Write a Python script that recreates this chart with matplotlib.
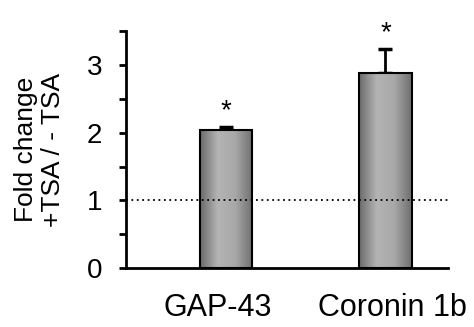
import numpy as np
import matplotlib
matplotlib.use("Agg")
import matplotlib.pyplot as plt
import matplotlib.transforms as mtransforms
from matplotlib.colors import LinearSegmentedColormap

plt.rcParams['font.family'] = ['Liberation Sans', 'DejaVu Sans']

genes = ["GAP-43", "Coronin 1b"]
fold = [2.04, 2.88]
err_up = [0.04, 0.35]
stars = ["*", "*"]
ylabel = "Fold change\n+TSA / - TSA"

fig = plt.figure(figsize=(4.74, 3.27), dpi=100)
ax = fig.add_axes([0.266, 0.180, 0.679, 0.725])

x = np.arange(len(genes))
width = 0.33
bars = ax.bar(x, fold, width=width, color='none', edgecolor='black', linewidth=1.5, zorder=3)

# horizontal gradient inside the bars
cmap = LinearSegmentedColormap.from_list("bargrad", ["#6a6a6a", "#b4b4b4", "#a8a8a8", "#6e6e6e"])
grad = np.linspace(0, 1, 256).reshape(1, -1)
for b in bars:
    x0, y0 = b.get_x(), b.get_y()
    im = ax.imshow(grad, cmap=cmap, aspect='auto', extent=[x0, x0 + b.get_width(), y0, y0 + b.get_height()],
                   zorder=2)
    im.set_clip_path(b)

ax.errorbar(x, fold, yerr=[np.zeros(len(fold)), err_up], fmt='none', ecolor='black',
            elinewidth=2, capsize=5, capthick=2.5, zorder=1)

for xi, f, e, s in zip(x, fold, err_up, stars):
    ax.text(xi, f + e + 0.14, s, ha='center', va='baseline', fontsize=20)

ax.axhline(1, color='black', linestyle=(0, (1, 2)), linewidth=1.3, zorder=4)

ax.set_xlim(-0.627, 1.392)
ax.set_ylim(0, 3.5)
ax.set_xticks(x)
ax.set_xticklabels(genes, fontsize=22)
ax.set_yticks([0, 1, 2, 3])
ax.set_yticks([0.5, 1.5, 2.5, 3.5], minor=True)
ax.tick_params(axis='y', which='both', direction='out', length=5, width=2, labelsize=20, pad=12)
ax.tick_params(axis='x', length=0, pad=18)
ax.set_ylabel(ylabel, fontsize=19, linespacing=1.15, labelpad=16)

# the category labels sit a little apart from the bar centres
for lbl, dx in zip(ax.get_xticklabels(), [-8, 7]):
    lbl.set_transform(lbl.get_transform() + mtransforms.Affine2D().translate(dx, 0))

for side in ['top', 'right']:
    ax.spines[side].set_visible(False)
ax.spines['left'].set_linewidth(2)
ax.spines['bottom'].set_linewidth(2)

fig.savefig("out.png", dpi=100)
